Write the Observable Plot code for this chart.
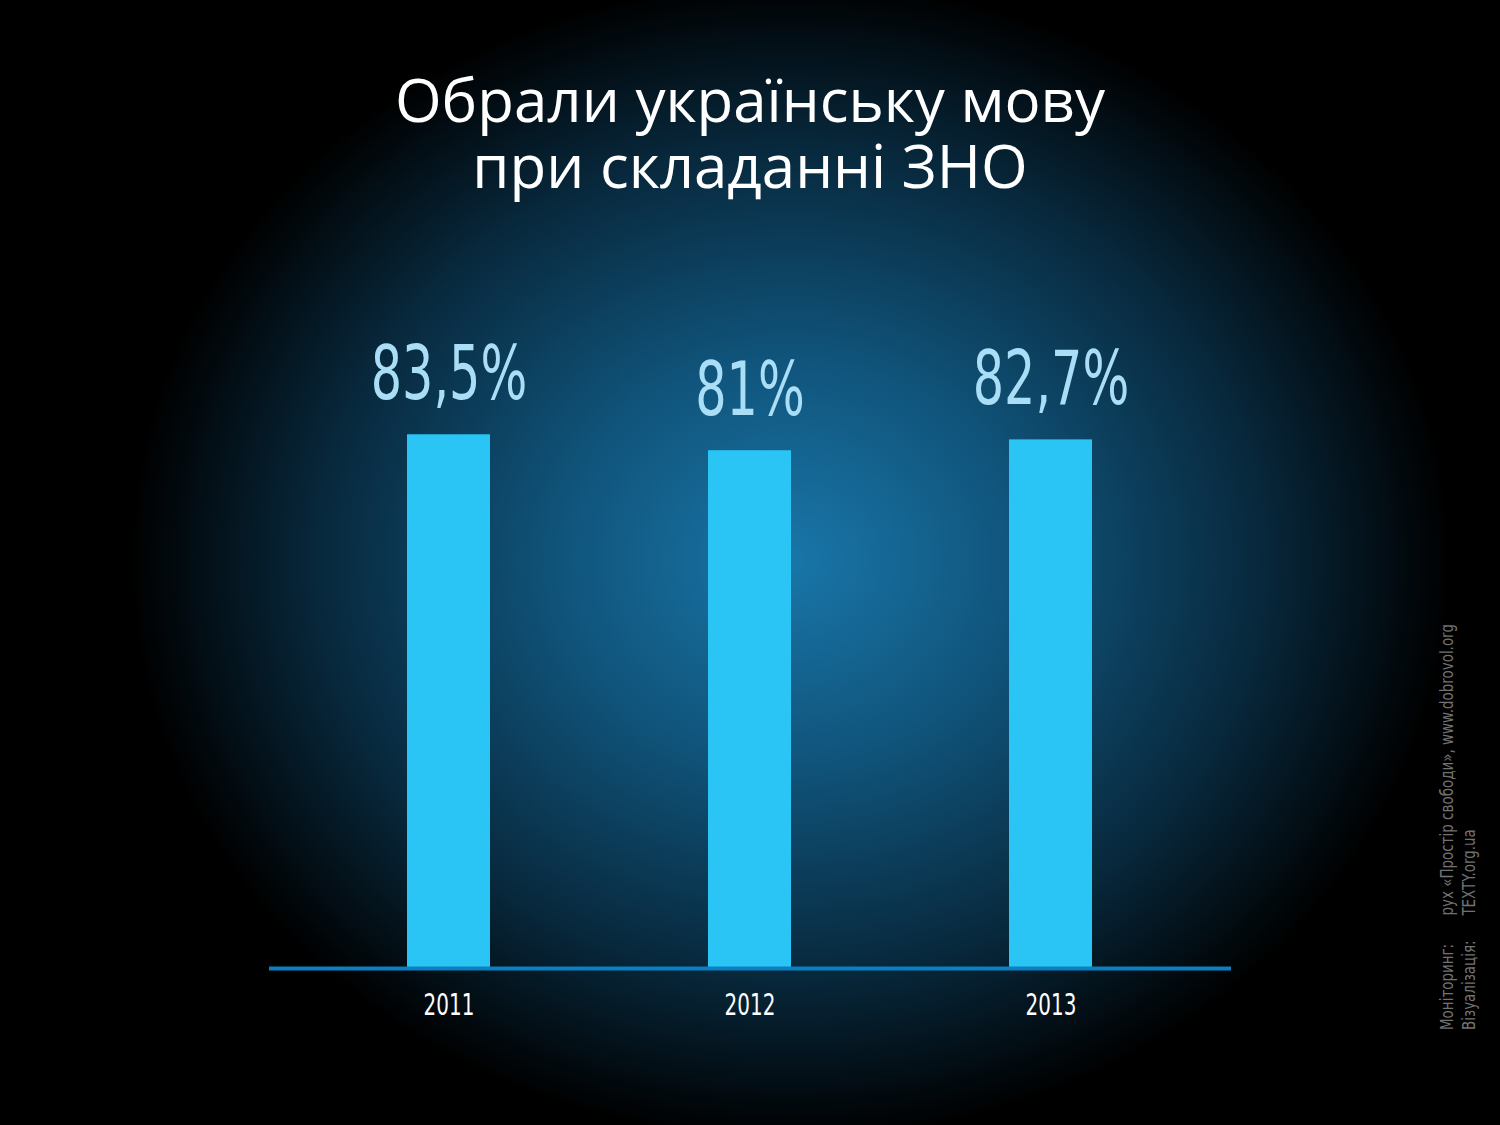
<!DOCTYPE html>
<html>
<head>
<meta charset="utf-8">
<script src="https://cdn.jsdelivr.net/npm/d3@7"></script>
<script src="https://cdn.jsdelivr.net/npm/@observablehq/plot@0.6"></script>
<style>
  body { margin: 0; background: #000; }
  #page {
    position: relative; width: 1500px; height: 1125px; overflow: hidden;
    background: radial-gradient(ellipse 660px 580px at 790px 560px, #1976a9 0%, #10547b 35%, #082a3f 70%, #000 100%);
  }
  #title {
    position: absolute; top: 66px; left: 0; width: 1500px; text-align: center;
    color: #fff; font-family: "Open Sans", sans-serif; font-size: 60px; line-height: 66px;
  }
  #chart { position: absolute; top: 250px; left: 0; }
  #credits {
    position: absolute; left: 1436px; top: 1030px; transform-origin: 0 0; transform: rotate(-90deg) scaleX(0.88);
    color: #727272; font-family: "DejaVu Sans Condensed", "DejaVu Sans", sans-serif;
    font-size: 17px; line-height: 22px; white-space: nowrap;
  }
  #credits span.k { display: inline-block; width: 130px; }
</style>
</head>
<body>
<div id="page">
  <div id="title">Обрали українську мову<br>при складанні ЗНО</div>
  <div id="chart"></div>
  <div id="credits">
    <div><span class="k">Моніторинг:</span>рух «Простір свободи», www.dobrovol.org</div>
    <div><span class="k">Візуалізація:</span>TEXTY.org.ua</div>
  </div>
</div>
<script>
const years = ["2011", "2012", "2013"];
const shares = [83.5, 81, 82.7];
const valueLabels = ["83,5%", "81%", "82,7%"];

const data = years.map((y, i) => ({year: y, share: shares[i], label: valueLabels[i]}));

const chart = Plot.plot({
  width: 1500,
  height: 797,
  marginLeft: 269,
  marginRight: 269,
  marginTop: 79,
  marginBottom: 80,
  style: {background: "transparent", fontFamily: "'DejaVu Sans Condensed', 'DejaVu Sans', sans-serif"},
  x: {domain: years, padding: 0.724, paddingOuter: 0.46, axis: null},
  y: {domain: [0, 100], axis: null},
  marks: [
    Plot.barY(data, {x: "year", y: "share", fill: "#2bc5f5"}),
    Plot.ruleY([0], {stroke: "#0a80c2", strokeWidth: 4, dy: 1}),
    Plot.text(data, {x: "year", y: "share", text: "label", fill: "#a9def6", fontSize: 74, lineAnchor: "bottom", dy: -36}),
    Plot.axisX({tickSize: 0, tickPadding: 26, fontSize: 30, fill: "#fff", color: "#fff", label: null})
  ]
});

// squeeze the texts horizontally to get the narrow look of the original
d3.select(chart).selectAll("text").each(function() {
  const t = this.getAttribute("transform");
  if (t && t.includes("translate")) this.setAttribute("transform", t + " scale(0.74,1)");
});

d3.select("#chart").append(() => chart);
</script>
</body>
</html>
